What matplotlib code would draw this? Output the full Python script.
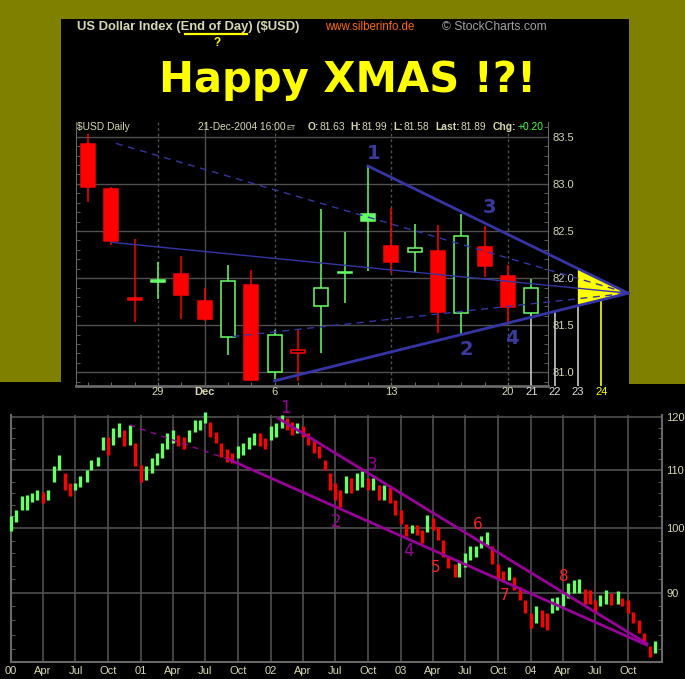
import datetime as dt
import numpy as np
import pandas as pd
import matplotlib
matplotlib.use("Agg")
import matplotlib.pyplot as plt
import matplotlib.transforms as mtrans
from matplotlib.patches import Rectangle, Polygon

W, H = 685, 679
OLIVE = "#808000"
BEIGE = "#d8d8b0"
GRID = "#505050"
FRAME = "#686868"
RED = "#ff0000"
GREEN = "#66ff66"
BLUE = "#3535a5"
PURPLE = "#990099"
FONT = "Liberation Sans"

# ---------------- upper chart: $USD daily candles 24-Nov .. 21-Dec-2004
day_labels = ["29", "Dec", "6", "13", "20", "21", "22", "23", "24"]
day_label_idx = [3, 5, 8, 13, 18, 19, 20, 21, 22]
c_open = [83.42, 82.95, 81.79, 81.98, 82.04, 81.76, 81.38, 81.93, 81.00, 81.21,
          81.70, 82.05, 82.68, 82.34, 82.28, 82.29, 81.63, 82.33, 82.02, 81.63]
c_high = [83.53, 82.97, 82.42, 82.17, 82.23, 81.90, 82.14, 82.09, 81.45, 81.45,
          82.73, 82.49, 83.19, 82.74, 82.57, 82.56, 82.68, 82.55, 82.14, 81.99]
c_low = [82.81, 82.35, 81.53, 81.78, 81.57, 81.54, 81.18, 80.91, 80.93, 80.91,
         81.21, 81.74, 82.08, 82.05, 82.05, 81.42, 81.41, 82.01, 81.52, 81.58]
c_close = [82.97, 82.39, 81.77, 81.96, 81.82, 81.57, 81.97, 80.92, 81.40, 81.24,
           81.89, 82.07, 82.61, 82.17, 82.32, 81.64, 82.45, 82.13, 81.69, 81.89]
price_ticks = [81.0, 81.5, 82.0, 82.5, 83.0, 83.5]

# triangle lines: start points (day index, price), all meet at the apex
apex = (23.16, 81.84)
solid_starts = [(12, 83.19), (8, 80.91)]
dashed_starts = [(1.2, 83.43), (6.2, 81.38)]
thin_starts = [(1, 82.38)]
upper_marks = ["1", "2", "3", "4"]
upper_mark_x = [12.23, 16.23, 17.23, 18.16]
upper_mark_y = [83.32, 81.24, 82.75, 81.36]

# ---------------- lower chart: $USD 2000 - 2004 (half-month high / low)
lt_high = [102.0, 103.0, 105.4, 105.6, 105.9, 106.5, 106.2, 106.5, 110.7, 112.8, 109.5, 107.7,
           107.7, 108.9, 110.1, 111.9, 112.5, 116.2, 116.2, 117.9, 118.8, 117.5, 118.5, 115.0,
           111.0, 110.7, 112.2, 113.1, 115.0, 116.9, 117.5, 116.6, 116.2, 117.5, 119.5, 119.5,
           121.1, 119.1, 117.2, 115.0, 114.0, 113.1, 114.4, 115.0, 116.2, 116.9, 116.9, 115.9,
           118.2, 118.8, 120.5, 119.8, 119.1, 118.8, 118.2, 116.9, 115.6, 114.4, 111.9, 109.5,
           107.7, 106.5, 108.9, 108.6, 109.5, 109.8, 108.6, 108.6, 107.4, 107.4, 107.1, 104.8,
           103.1, 100.8, 100.5, 100.5, 99.7, 102.2, 101.7, 100.3, 98.1, 95.5, 94.4, 94.7,
           96.0, 97.1, 97.1, 98.7, 99.5, 97.1, 94.4, 93.2, 93.9, 92.4, 90.9, 88.9,
           87.0, 88.0, 87.5, 87.0, 89.2, 89.4, 89.9, 91.4, 91.9, 92.1, 90.6, 90.4,
           88.9, 89.7, 90.4, 89.9, 90.2, 89.2, 88.9, 87.2, 86.1, 84.2, 82.4, 83.1]
lt_low = [99.6, 101.0, 103.1, 103.1, 104.5, 104.8, 104.2, 104.8, 108.0, 110.1, 106.5, 105.4,
          106.5, 107.1, 108.0, 110.1, 110.7, 113.7, 112.8, 114.7, 116.2, 114.4, 114.7, 110.7,
          108.0, 108.3, 109.5, 111.0, 112.2, 114.0, 115.0, 114.4, 114.0, 115.3, 117.2, 117.5,
          118.8, 116.2, 115.0, 112.5, 111.6, 111.3, 112.2, 112.8, 114.0, 114.7, 114.4, 114.0,
          115.6, 116.2, 117.9, 117.5, 116.6, 116.9, 116.2, 114.7, 113.1, 112.2, 110.1, 106.5,
          104.8, 103.6, 105.9, 105.9, 106.5, 107.1, 106.5, 106.5, 104.8, 104.8, 104.2, 102.2,
          100.8, 98.7, 99.2, 99.0, 97.6, 99.5, 99.7, 98.1, 95.5, 93.7, 92.4, 92.4,
          93.9, 95.0, 95.5, 96.8, 97.1, 94.4, 91.9, 91.6, 91.9, 90.4, 88.9, 87.0,
          84.9, 85.6, 85.1, 84.7, 87.0, 87.5, 88.0, 89.2, 89.9, 89.9, 88.4, 88.4,
          87.0, 88.0, 88.4, 88.2, 88.4, 88.0, 87.0, 85.6, 84.2, 82.8, 81.0, 81.5]
lt_dates = pd.date_range("2000-01-01", periods=len(lt_high), freq="SMS")

q_dates = pd.date_range("2000-01-01", "2004-10-01", freq="QS")
q_labels = ["00", "Apr", "Jul", "Oct", "01", "Apr", "Jul", "Oct", "02", "Apr", "Jul", "Oct",
            "03", "Apr", "Jul", "Oct", "04", "Apr", "Jul", "Oct"]
lt_ticks = [90, 100, 110, 120]

# trend lines (date, price)
lt_upper = [("2002-01-22", 119.8), ("2004-11-22", 82.8)]
lt_lower = [("2001-09-08", 111.9), ("2004-11-22", 82.6)]
lt_dashed = [("2000-12-01", 118.5), ("2001-09-08", 111.9)]
lt_marks = ["1", "2", "3", "4", "5", "6", "7", "8"]
lt_mark_dates = ["2002-02-12", "2002-07-04", "2002-10-11", "2003-01-22",
                 "2003-04-09", "2003-08-04", "2003-10-20", "2004-04-04"]
lt_mark_y = [121.8, 101.1, 111.0, 96.4, 93.8, 100.6, 89.6, 92.4]


def fx(x):
    return x / W


def fy(y):
    return 1 - y / H


fig = plt.figure(figsize=(W / 100, H / 100), dpi=100, facecolor="black")
renderer = fig.canvas.get_renderer()

# olive frame round the upper panel
for x0, y0, x1, y1 in [(0, 0, 685, 19), (0, 0, 61, 382), (629, 0, 685, 384)]:
    fig.add_artist(Rectangle((fx(x0), fy(y1)), (x1 - x0) / W, (y1 - y0) / H,
                             transform=fig.transFigure, facecolor=OLIVE,
                             edgecolor="none", zorder=-5))

# header texts
fig.text(fx(77), fy(27), "US Dollar Index (End of Day) ($USD)", color=BEIGE,
         fontsize=9.4, fontweight="bold", family=FONT, va="center")
fig.add_artist(plt.Line2D([fx(185), fx(247)], [fy(33.5), fy(33.5)], color="yellow", lw=1.6))
fig.text(fx(217), fy(42.5), "?", color="yellow", fontsize=8.5, fontweight="bold",
         family=FONT, ha="center", va="center")
fig.text(fx(325), fy(27), "www.silberinfo.de", color="#ff6a00", fontsize=8.3,
         family=FONT, va="center")
fig.text(fx(442), fy(27), "\u00a9 StockCharts.com", color="#a0a0a0", fontsize=8.7,
         family=FONT, va="center")
fig.text(fx(348), fy(80), "Happy XMAS !?!", color="#ffff00", fontsize=30,
         fontweight="bold", family="DejaVu Sans", ha="center", va="center")

# ---------------- upper chart
ax1 = fig.add_axes([fx(76), fy(386), (548 - 76) / W, (386 - 122) / H])
ax1.set_facecolor("black")
ax1.set_xlim(-0.51, 19.72)
ax1.set_ylim(80.855, 83.657)
ax1.spines["top"].set_visible(False)
for s in ["left", "right", "bottom"]:
    ax1.spines[s].set_color(FRAME)
ax1.spines["bottom"].set_linewidth(2)
ax1.yaxis.tick_right()
ax1.set_yticks(price_ticks)
ax1.set_yticklabels([f"{v:.1f}" for v in price_ticks], color=BEIGE, fontsize=8, family=FONT)
ax1.tick_params(axis="y", which="major", length=0, pad=3)
ax1.set_yticks(np.arange(80.9, 83.65, 0.1), minor=True)
ax1.tick_params(axis="y", which="minor", direction="in", length=3, color=FRAME,
                left=True, right=True)
ax1.set_xticks(range(len(c_open)))
ax1.set_xticklabels([])
ax1.tick_params(axis="x", direction="in", length=3, color=FRAME)

for v in price_ticks:
    ax1.axhline(v, color=GRID, lw=1, zorder=1)
for lab, i in zip(day_labels[:5], day_label_idx[:5]):
    ax1.axvline(i, color=GRID, lw=1, zorder=1, ls="-" if lab == "Dec" else (0, (2, 2)))

tb = mtrans.blended_transform_factory(ax1.transData, ax1.transAxes)
label_cols = [BEIGE] * 5 + ["#e0e0e0"] * 3 + ["#ffff00"]
for lab, i, c in zip(day_labels, day_label_idx, label_cols):
    ax1.text(i, -0.024, lab, transform=tb, ha="center", va="center", color=c,
             fontsize=8, family=FONT, fontweight="bold" if lab == "Dec" else "normal",
             clip_on=False)

# candles
for i in range(len(c_open)):
    prev = c_close[i - 1] if i > 0 else c_open[i]
    col = GREEN if c_close[i] >= prev else RED
    filled = c_close[i] < c_open[i]
    ax1.vlines(i, c_low[i], c_high[i], color=col, lw=1.1, zorder=3)
    lo, hi = min(c_open[i], c_close[i]), max(c_open[i], c_close[i])
    ax1.add_patch(Rectangle((i - 0.3, lo), 0.6, max(hi - lo, 0.02),
                            facecolor=col if filled else "black", edgecolor=col,
                            lw=1.1, zorder=4))

# yellow triangle between the two solid lines after the 23rd
ys_up = np.interp([21, apex[0]], [solid_starts[0][0], apex[0]], [solid_starts[0][1], apex[1]])
ys_dn = np.interp([21, apex[0]], [solid_starts[1][0], apex[0]], [solid_starts[1][1], apex[1]])
ax1.add_patch(Polygon([(21, ys_up[0]), apex, (21, ys_dn[0])], closed=True,
                      facecolor="#ffff00", edgecolor="none", zorder=2, clip_on=False))

for x0, y0 in solid_starts:
    ax1.plot([x0, apex[0]], [y0, apex[1]], color=BLUE, lw=2, zorder=5, clip_on=False)
for x0, y0 in dashed_starts:
    ax1.plot([x0, apex[0]], [y0, apex[1]], color=BLUE, lw=1, ls=(0, (5, 4)),
             zorder=5, clip_on=False)
for x0, y0 in thin_starts:
    ax1.plot([x0, apex[0]], [y0, apex[1]], color=BLUE, lw=1, zorder=5, clip_on=False)

# projection lines down from the lower line / last candle
ax1.vlines(19, 80.855, min(c_open[19], c_close[19]), color="#c8c8c8", lw=1.2,
           zorder=2, clip_on=False)
for i, c in [(20, "#c8c8c8"), (21, "#c8c8c8"), (22, "#ffff00")]:
    ytop = np.interp(i, [solid_starts[1][0], apex[0]], [solid_starts[1][1], apex[1]])
    ax1.vlines(i, 80.855, ytop, color=c, lw=1.2, zorder=2, clip_on=False)

for t, x, y in zip(upper_marks, upper_mark_x, upper_mark_y):
    ax1.text(x, y, t, color="#3a3a9e", fontsize=14, fontweight="bold",
             family="DejaVu Sans", ha="center", va="center", zorder=6)

# header line inside the chart: each bold key is followed directly by its value
hdr_y = 127
hsize = 7.4
fig.text(fx(77), fy(hdr_y), "$USD Daily", color=BEIGE, fontsize=hsize, family=FONT, va="center")
td = fig.text(fx(198), fy(hdr_y), "21-Dec-2004 16:00", color=BEIGE, fontsize=hsize,
              family=FONT, va="center")
et_x = 198 + td.get_window_extent(renderer).width + 0.5
fig.text(fx(et_x), fy(hdr_y + 1), "ET", color=BEIGE, fontsize=5.3, family=FONT, va="center")
hdr_keys = ["O:", "H:", "L:", "Last:", "Chg:"]
hdr_vals = ["81.63", "81.99", "81.58", "81.89", "+0.20"]
hdr_x = [308, 350, 393, 435, 493]
for k, v, x in zip(hdr_keys, hdr_vals, hdr_x):
    t = fig.text(fx(x), fy(hdr_y), k, color=BEIGE, fontsize=hsize, family=FONT,
                 va="center", fontweight="bold")
    wpx = t.get_window_extent(renderer).width
    fig.text(fx(x + wpx + 0.5), fy(hdr_y), v, fontsize=hsize, family=FONT, va="center",
             color="#40ff40" if k == "Chg:" else BEIGE)

# ---------------- lower chart
ax2 = fig.add_axes([fx(10.7), fy(662), (662 - 10.7) / W, (662 - 400) / H])
ax2.set_facecolor("none")
ax2.set_yscale("log")
ax2.set_ylim(80.33, 123.45)
ax2.set_xlim(dt.date(2000, 1, 1), dt.date(2005, 1, 4))
ax2.spines["top"].set_visible(False)
for s in ["left", "right", "bottom"]:
    ax2.spines[s].set_color(FRAME)
    ax2.spines[s].set_linewidth(1.5)
ax2.spines["left"].set_bounds(80.33, 120.45)
ax2.spines["right"].set_bounds(80.33, 120.45)

ax2.vlines(q_dates, 80.33, 120.45, color=GRID, lw=1.2, zorder=1)
for v in lt_ticks:
    ax2.axhline(v, color=GRID, lw=1.2, zorder=1)

ax2.set_xticks(q_dates)
ax2.set_xticklabels(q_labels, color=BEIGE, fontsize=8, family=FONT)
ax2.tick_params(axis="x", length=0, pad=3)
ax2.yaxis.tick_right()
ax2.set_yticks(lt_ticks)
ax2.set_yticklabels([str(v) for v in lt_ticks], color=BEIGE, fontsize=8, family=FONT)
ax2.set_yticks([v for v in range(82, 120, 2) if v not in lt_ticks], minor=True)
ax2.yaxis.set_minor_formatter(matplotlib.ticker.NullFormatter())
ax2.tick_params(axis="y", which="major", length=0, pad=3)
ax2.tick_params(axis="y", which="minor", direction="in", length=3, color=FRAME,
                left=True, right=True)

mid = [(h + l) / 2 for h, l in zip(lt_high, lt_low)]
cols = [GREEN if i == 0 or mid[i] >= mid[i - 1] else RED for i in range(len(mid))]
ax2.vlines(lt_dates, lt_low, lt_high, colors=cols, lw=2.4, zorder=3, clip_on=False)


def dline(pts, **kw):
    ax2.plot([pd.Timestamp(d) for d, _ in pts], [p for _, p in pts], **kw)


dline(lt_upper, color=PURPLE, lw=2, zorder=4)
dline(lt_lower, color=PURPLE, lw=2, zorder=4)
dline(lt_dashed, color=PURPLE, lw=1, ls=(0, (4, 4)), zorder=4)

for i, (t, d, y) in enumerate(zip(lt_marks, lt_mark_dates, lt_mark_y)):
    ax2.text(pd.Timestamp(d), y, t, color=PURPLE if i < 4 else "#ff2020",
             fontsize=12 if i < 4 else 11, family="DejaVu Sans", ha="center",
             va="center", zorder=6, clip_on=False)

fig.savefig("out.png", dpi=100, facecolor="black")
